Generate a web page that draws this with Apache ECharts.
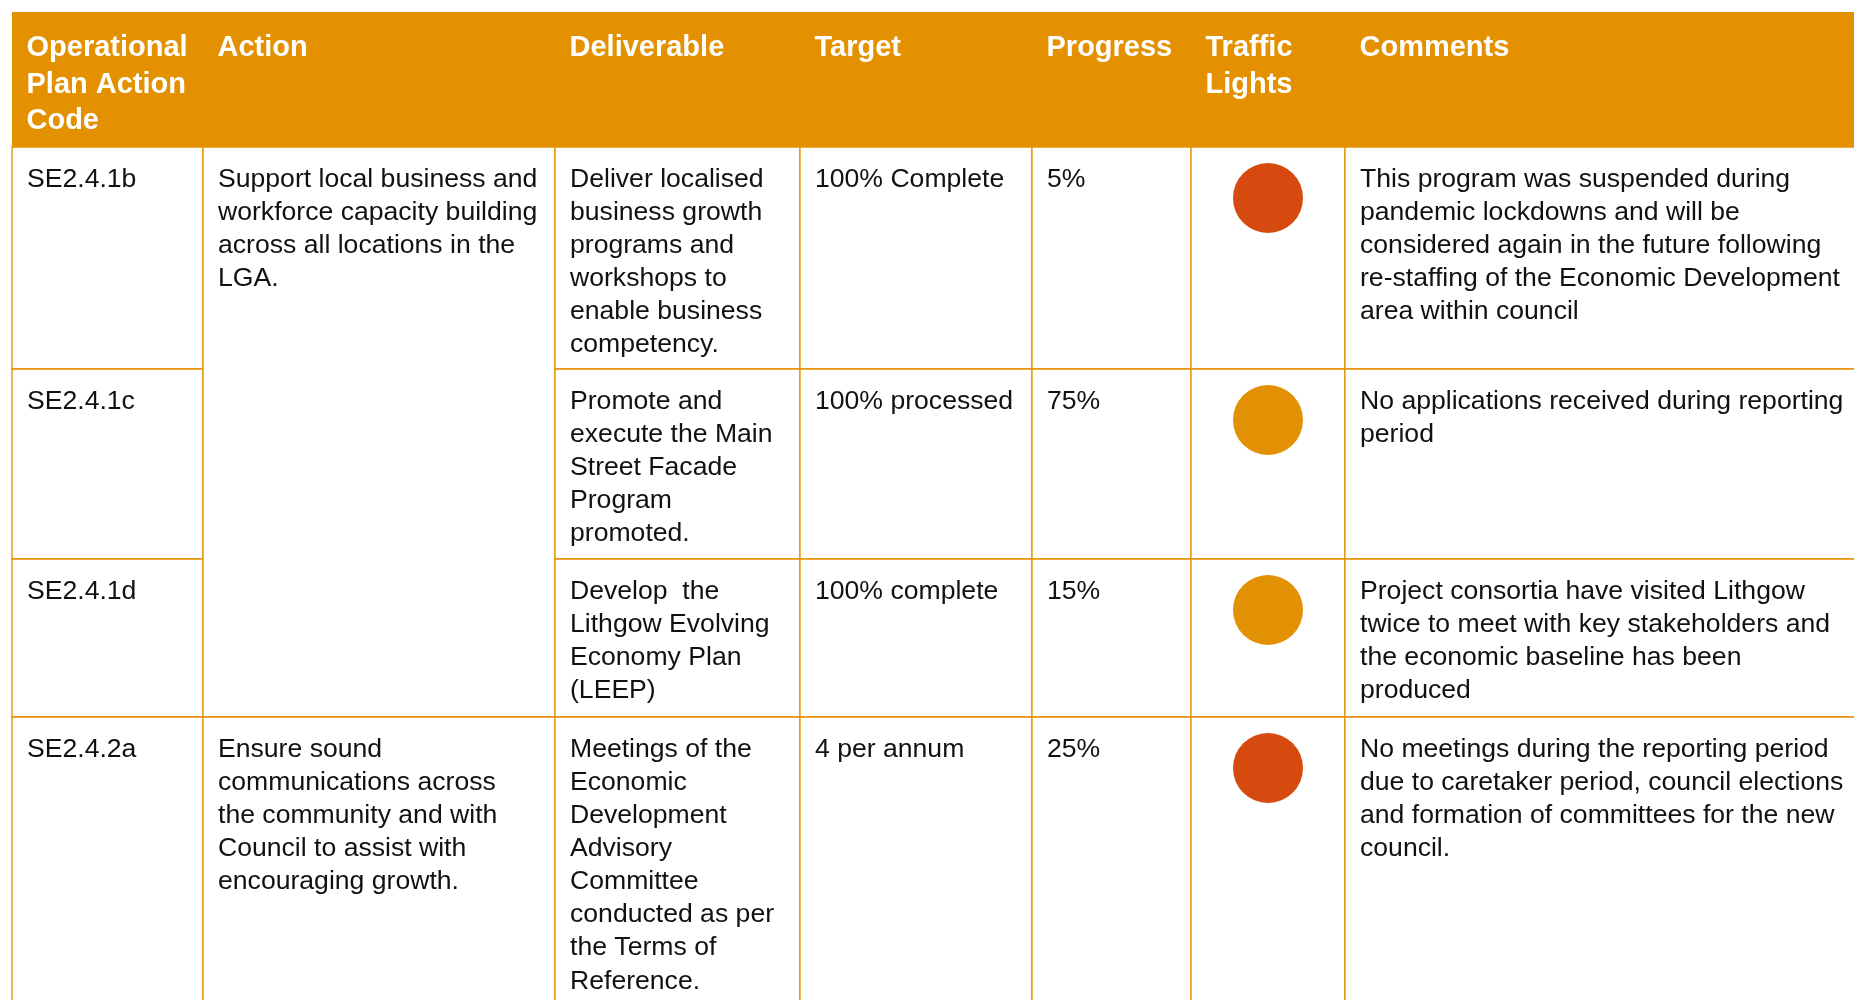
<!DOCTYPE html>
<html>
<head>
<meta charset="utf-8">
<script src="https://cdn.jsdelivr.net/npm/echarts@6/dist/echarts.min.js"></script>
<style>html,body{margin:0;padding:0;background:#fff}#c{width:1854px;height:1000px}</style>
</head>
<body>
<div id="c"></div>
<script>
// ---- data ----
const headers = ['Operational\nPlan Action\nCode', 'Action', 'Deliverable', 'Target', 'Progress', 'Traffic\nLights', 'Comments'];
const codes = ['SE2.4.1b', 'SE2.4.1c', 'SE2.4.1d', 'SE2.4.2a'];
// actions: text and the body rows they span [firstRow, lastRow]
const actions = [
  'Support local business and\nworkforce capacity building\nacross all locations in the\nLGA.',
  'Ensure sound\ncommunications across\nthe community and with\nCouncil to assist with\nencouraging growth.'
];
const actionSpans = [[0, 2], [3, 3]];
const deliverables = [
  'Deliver localised\nbusiness growth\nprograms and\nworkshops to\nenable business\ncompetency.',
  'Promote and\nexecute the Main\nStreet Facade\nProgram\npromoted.',
  'Develop  the\nLithgow Evolving\nEconomy Plan\n(LEEP)',
  'Meetings of the\nEconomic\nDevelopment\nAdvisory\nCommittee\nconducted as per\nthe Terms of\nReference.'
];
const targets = ['100% Complete', '100% processed', '100% complete', '4 per annum'];
const progress = ['5%', '75%', '15%', '25%'];
const lights = ['red', 'amber', 'amber', 'red'];
const comments = [
  'This program was suspended during\npandemic lockdowns and will be\nconsidered again in the future following\nre-staffing of the Economic Development\narea within council',
  'No applications received during reporting\nperiod',
  'Project consortia have visited Lithgow\ntwice to meet with key stakeholders and\nthe economic baseline has been\nproduced',
  'No meetings during the reporting period\ndue to caretaker period, council elections\nand formation of committees for the new\ncouncil.'
];

// ---- layout (in canvas units, mapped through the axes) ----
const COL_EDGES = [12, 203, 555, 800, 1032, 1191, 1345, 1880];
const ROW_EDGES = [12, 147, 369, 559, 717, 1060]; // header top, header bottom, body row bottoms
const ORANGE = '#E39100';
const LIGHT_COLORS = { red: '#D64A0F', amber: '#E39104' };
const FONT_FAMILY = '"Liberation Sans", Arial, Helvetica, sans-serif';

// build cell list: [col, rowStart, rowEnd, isHeader], text kept parallel
const cells = [];
const cellTexts = [];
headers.forEach((h, c) => { cells.push([c, -1, -1, 1]); cellTexts.push(h); });
codes.forEach((t, r) => { cells.push([0, r, r, 0]); cellTexts.push(t); });
actions.forEach((t, i) => { cells.push([1, actionSpans[i][0], actionSpans[i][1], 0]); cellTexts.push(t); });
deliverables.forEach((t, r) => { cells.push([2, r, r, 0]); cellTexts.push(t); });
targets.forEach((t, r) => { cells.push([3, r, r, 0]); cellTexts.push(t); });
progress.forEach((t, r) => { cells.push([4, r, r, 0]); cellTexts.push(t); });
lights.forEach((t, r) => { cells.push([5, r, r, 0]); cellTexts.push(''); });
comments.forEach((t, r) => { cells.push([6, r, r, 0]); cellTexts.push(t); });

const lightData = lights.map((l, r) => [r, l]);

function rowTop(r) { return ROW_EDGES[r + 1]; }
function rowBottom(r) { return ROW_EDGES[r + 2]; }

const chart = echarts.init(document.getElementById('c'), null, { renderer: 'canvas' });
chart.setOption({
  backgroundColor: '#ffffff',
  animation: false,
  grid: { left: 0, right: 0, top: 0, bottom: 0, containLabel: false },
  xAxis: { type: 'value', min: 0, max: 1854, show: false },
  yAxis: { type: 'value', min: 0, max: 1000, inverse: true, show: false },
  series: [
    {
      type: 'custom',
      coordinateSystem: 'cartesian2d',
      clip: false,
      silent: true,
      data: cells,
      renderItem: function (params, api) {
        const c = api.value(0), r0 = api.value(1), r1 = api.value(2), isHeader = api.value(3) === 1;
        const top = isHeader ? ROW_EDGES[0] : rowTop(r0);
        const bottom = isHeader ? ROW_EDGES[1] : rowBottom(r1);
        const p0 = api.coord([COL_EDGES[c], top]);
        const p1 = api.coord([COL_EDGES[c + 1], bottom]);
        const text = cellTexts[params.dataIndex];
        const children = [];
        if (isHeader) {
          children.push({
            type: 'rect',
            shape: { x: p0[0], y: p0[1], width: p1[0] - p0[0] + 1, height: p1[1] - p0[1] },
            style: { fill: ORANGE, stroke: null }
          });
          children.push({
            type: 'text',
            style: {
              text: text, x: p0[0] + 14.5, y: p0[1] + 18,
              fill: '#ffffff', font: 'bold 29px ' + FONT_FAMILY,
              lineHeight: 36.5, verticalAlign: 'top', align: 'left'
            }
          });
        } else {
          children.push({
            type: 'rect',
            shape: { x: p0[0], y: p0[1], width: p1[0] - p0[0], height: p1[1] - p0[1] },
            style: { fill: '#ffffff', stroke: ORANGE, lineWidth: 1.3 }
          });
          if (text) {
            children.push({
              type: 'text',
              style: {
                text: text, x: p0[0] + 15, y: p0[1] + 16,
                fill: '#111111', font: '26.6px ' + FONT_FAMILY,
                lineHeight: 33.1, verticalAlign: 'top', align: 'left'
              }
            });
          }
        }
        return { type: 'group', children: children };
      }
    },
    {
      type: 'custom',
      coordinateSystem: 'cartesian2d',
      clip: false,
      silent: true,
      z: 3,
      data: lightData,
      renderItem: function (params, api) {
        const r = api.value(0);
        const status = lightData[params.dataIndex][1];
        const cx = (COL_EDGES[5] + COL_EDGES[6]) / 2;
        const p = api.coord([cx, rowTop(r) + 51]);
        return {
          type: 'circle',
          shape: { cx: p[0], cy: p[1], r: 35 },
          style: { fill: LIGHT_COLORS[status] }
        };
      }
    }
  ]
});
</script>
</body>
</html>
